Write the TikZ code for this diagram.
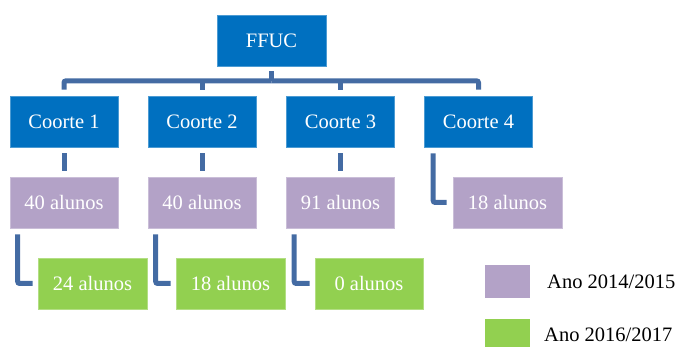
\documentclass[tikz,border=0pt]{standalone}
\usepackage{fontspec}
\setmainfont{Liberation Serif}
\definecolor{cblue}{HTML}{0070C0}
\definecolor{cpurple}{HTML}{B3A2C7}
\definecolor{cgreen}{HTML}{92D050}
\definecolor{cline}{RGB}{68,107,163}
\begin{document}
\begin{tikzpicture}[x=1pt,y=-1pt,
  box/.style={rectangle,inner sep=0pt,minimum width=108pt,minimum height=51pt,text=white,
    font=\fontsize{20.5}{24}\selectfont},
  bluebox/.style={box,fill=cblue,draw=cblue!70!white,line width=0.6pt},
  purplebox/.style={box,fill=cpurple,draw=cpurple!70!white,line width=0.6pt},
  greenbox/.style={box,fill=cgreen,draw=cgreen!70!white,line width=0.6pt},
  conn/.style={draw=cline,line width=5pt,rounded corners=2pt},
  legtext/.style={anchor=west,inner sep=0pt,text=black,font=\fontsize{20.5}{24}\selectfont}]
\useasboundingbox (0,0) rectangle (680,347);
% top level
\node[bluebox,minimum width=109pt] (ffuc) at (271.5,40.5) {FFUC};
\node[bluebox] (c1) at (64,121.5) {Coorte 1};
\node[bluebox] (c2) at (202,121.5) {Coorte 2};
\node[bluebox] (c3) at (340.5,121.5) {Coorte 3};
\node[bluebox] (c4) at (478.5,121.5) {Coorte 4};
% purple
\node[purplebox] (p1) at (64,202.5) {40 alunos};
\node[purplebox] (p2) at (202,202.5) {40 alunos};
\node[purplebox] (p3) at (340.5,202.5) {91 alunos};
\node[purplebox,minimum width=109pt] (p4) at (507.5,202.5) {18 alunos};
% green
\node[greenbox,minimum width=109pt] (g1) at (92.5,283.5) {24 alunos};
\node[greenbox,minimum width=109pt] (g2) at (230.5,283.5) {18 alunos};
\node[greenbox] (g3) at (369,283.5) {0 alunos};
% legend
\node[rectangle,inner sep=0pt,minimum width=45pt,minimum height=33pt,fill=cpurple] (legp) at (507.5,281.5) {};
\node[rectangle,inner sep=0pt,minimum width=45pt,minimum height=28pt,fill=cgreen] (legg) at (507.5,333) {};
\node[legtext] (legpt) at (547,282) {Ano 2014/2015};
\node[legtext] (leggt) at (544,335) {Ano 2016/2017};
% tree connectors
\coordinate (bar) at ([yshift=-14.5pt]ffuc.south);
\draw[conn,rounded corners=0pt] ([yshift=-5pt]ffuc.south) -- (bar);
\draw[conn] ([yshift=6pt]c1.north) |- (bar);
\draw[conn] ([yshift=6pt]c4.north) |- (bar);
\draw[conn] (bar -| c2.north) -- ([yshift=6pt]c2.north);
\draw[conn] (bar -| c3.north) -- ([yshift=6pt]c3.north);
% coorte to purple
\draw[conn] ([yshift=-6pt]c1.south) -- ([yshift=6pt]p1.north);
\draw[conn] ([yshift=-6pt]c2.south) -- ([yshift=6pt]p2.north);
\draw[conn] ([yshift=-6pt]c3.south) -- ([yshift=6pt]p3.north);
\draw[conn] ([xshift=9pt,yshift=-6pt]c4.south west) |- ([xshift=-6pt]p4.west);
% purple to green
\draw[conn] ([xshift=8pt,yshift=-6pt]p1.south west) |- ([xshift=-5pt]g1.west);
\draw[conn] ([xshift=8pt,yshift=-6pt]p2.south west) |- ([xshift=-5pt]g2.west);
\draw[conn] ([xshift=8pt,yshift=-6pt]p3.south west) |- ([xshift=-5pt]g3.west);
\end{tikzpicture}
\end{document}
